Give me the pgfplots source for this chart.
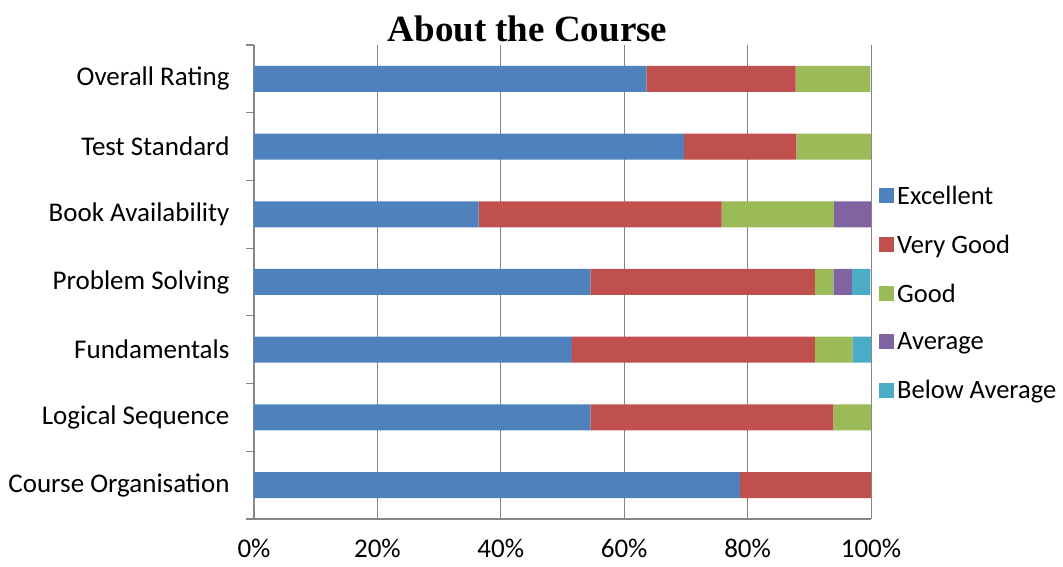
\documentclass[border=0pt]{standalone}
\usepackage{pgfplots}
\pgfplotsset{compat=1.18}
\usepackage{fontspec}
\setmainfont{Carlito}
\newfontfamily\titlefont{Liberation Serif}

\definecolor{cExc}{HTML}{4F81BD}
\definecolor{cVG}{HTML}{C0504D}
\definecolor{cGood}{HTML}{9BBB59}
\definecolor{cAvg}{HTML}{8064A2}
\definecolor{cBelow}{HTML}{4BACC6}
\definecolor{axgray}{HTML}{868686}

\begin{document}
\begin{tikzpicture}
\begin{axis}[
    name=ax,
    scale only axis,
    width=617pt, height=474pt,
    xbar stacked,
    bar width=26pt,
    xmin=0, xmax=100,
    ymin=-0.5, ymax=6.5,
    xtick={0,20,...,100},
    xticklabel={\pgfmathprintnumber{\tick}\%},
    /pgf/number format/assume math mode=true,
    ytick={0,...,6},
    yticklabels={Course Organisation, Logical Sequence, Fundamentals, Problem Solving, Book Availability, Test Standard, Overall Rating},
    extra y ticks={-0.5,0.5,...,6.5},
    extra y tick labels={},
    extra y tick style={major tick length=8pt, tick align=outside, tick style={axgray, line width=1.2pt}},
    major tick length=0pt,
    xmajorgrids=true,
    grid style={axgray, line width=1pt},
    axis x line*=bottom,
    axis y line*=left,
    axis line style={axgray, line width=1.4pt, -},
    tick label style={font=\fontsize{27}{31}\selectfont},
    xticklabel style={yshift=-17pt},
    yticklabel style={xshift=-21pt},
    title={\titlefont\bfseries\fontsize{37}{40}\selectfont About the Course},
    title style={at={(0.5,1)}, anchor=base, xshift=-35pt, yshift=-3pt},
    legend style={at={(1,0.5)}, anchor=west, xshift=5pt, yshift=-11pt, draw=none, fill=none,
        font=\fontsize{26.5}{31}\selectfont, row sep=27pt,
        nodes={inner sep=1pt}},
    legend cell align=left,
    every axis plot/.append style={draw=none,
        legend image code/.code={\fill[##1] (-2pt,-7.5pt) rectangle (13pt,7.5pt); \path (15pt,0pt);}},
]
% n = 33 respondents, values in percent
\addplot[fill=cExc] coordinates {(78.8,0) (54.5,1) (51.5,2) (54.5,3) (36.4,4) (69.7,5) (63.6,6)};
\addplot[fill=cVG] coordinates {(21.2,0) (39.4,1) (39.4,2) (36.4,3) (39.4,4) (18.2,5) (24.2,6)};
\addplot[fill=cGood] coordinates {(0,0) (6.1,1) (6.1,2) (3.0,3) (18.2,4) (12.1,5) (12.1,6)};
\addplot[fill=cAvg] coordinates {(0,0) (0,1) (0,2) (3.0,3) (6.1,4) (0,5) (0,6)};
\addplot[fill=cBelow] coordinates {(0,0) (0,1) (3.0,2) (3.0,3) (0,4) (0,5) (0,6)};
\legend{Excellent, Very Good, Good, Average, Below Average}
\end{axis}
\path (ax.south west) ++(-254pt,-48pt);
\path (ax.north east) ++(192pt,45pt);
\end{tikzpicture}
\end{document}
